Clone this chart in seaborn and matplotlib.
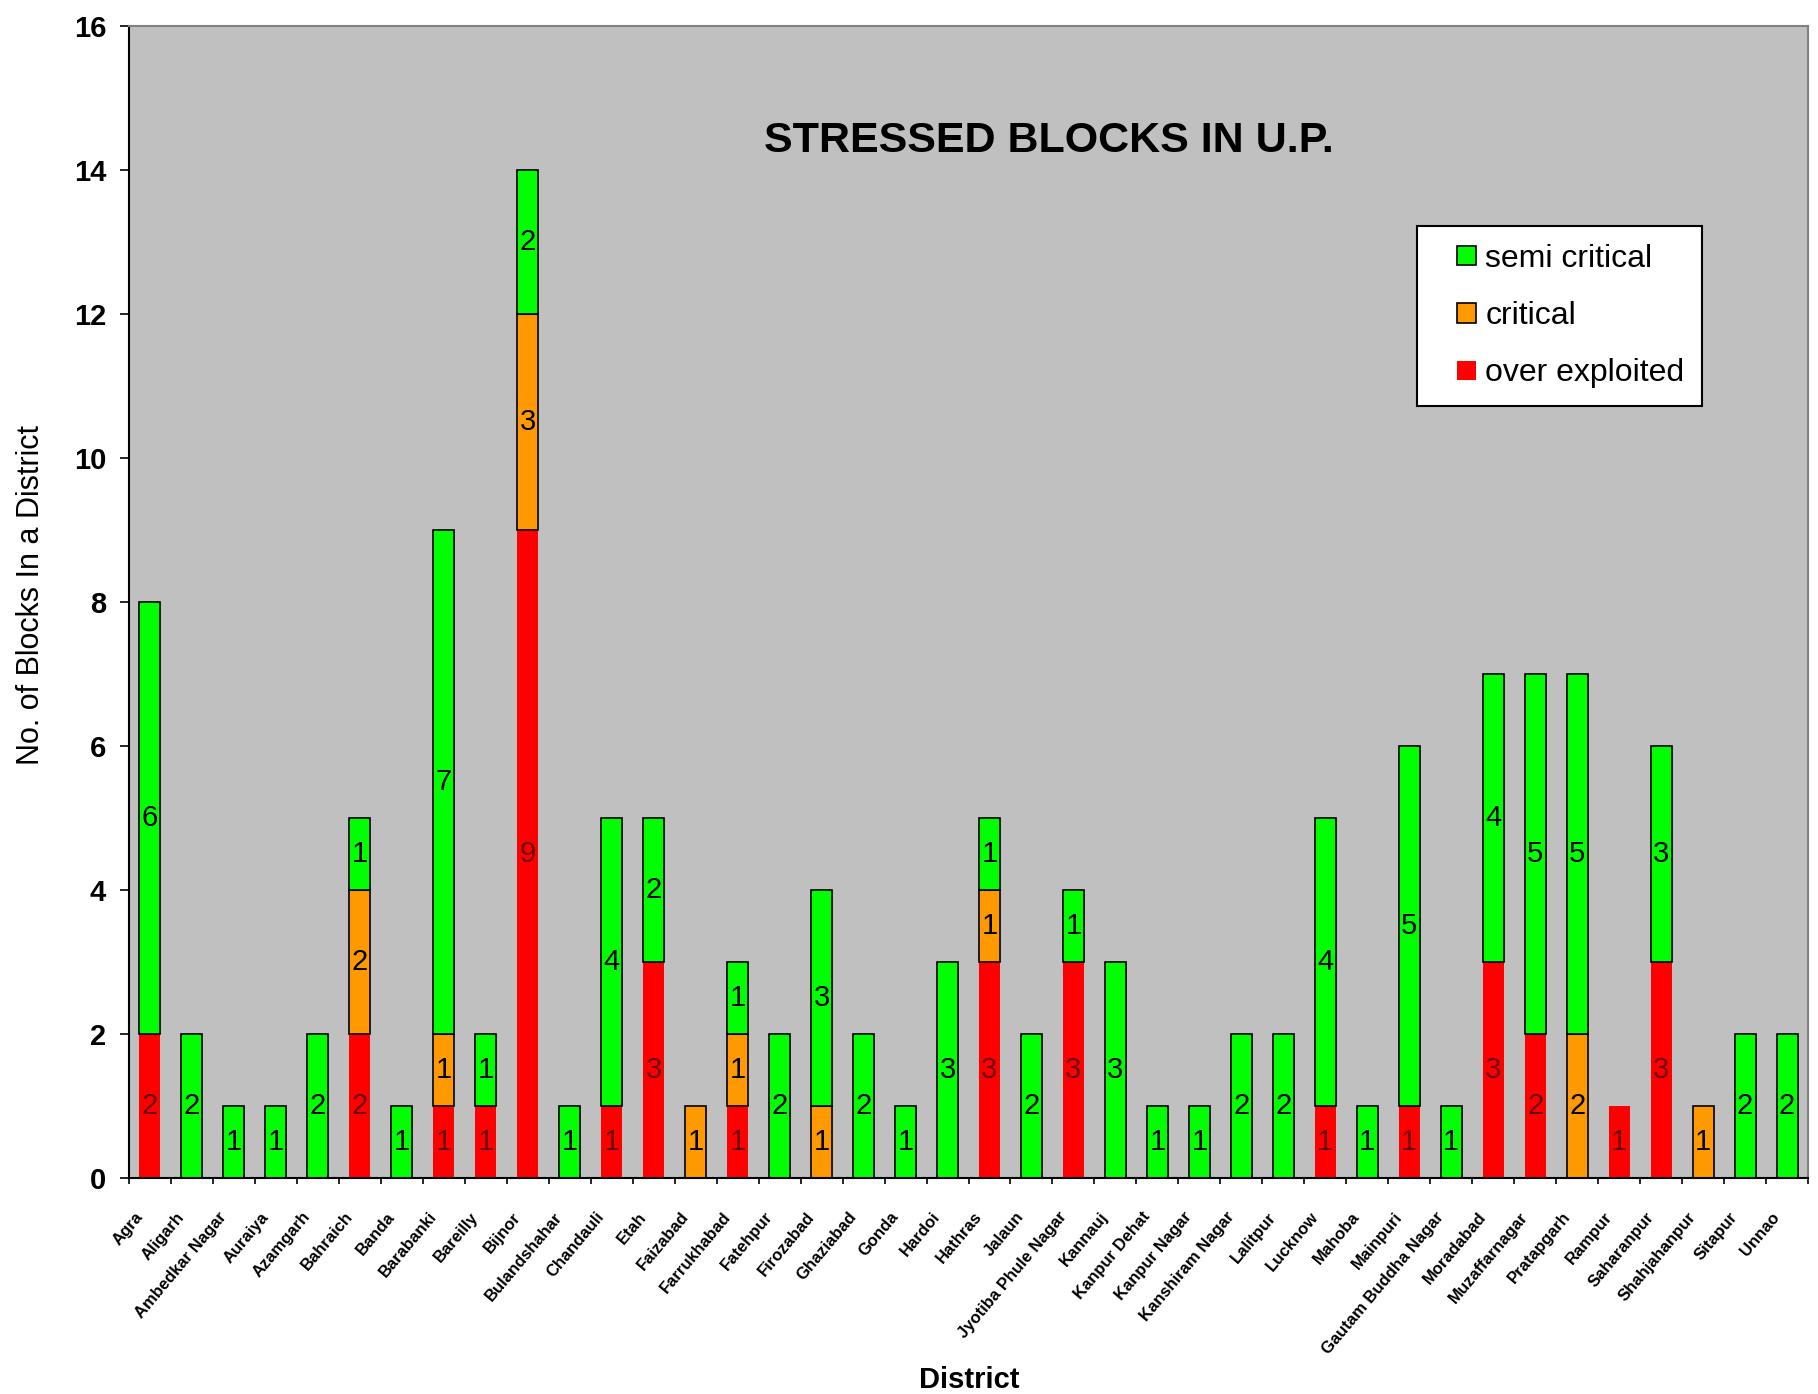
"""
Bloques estresados en U.P.: barras apiladas por distrito
(over exploited / critical / semi critical).
"""

import matplotlib

matplotlib.use("Agg")

import matplotlib.patches as mpatches
import matplotlib.pyplot as plt
import matplotlib.transforms as mtransforms
import numpy as np
import pandas as pd
import seaborn as sns
from matplotlib.legend_handler import HandlerPatch
from matplotlib.ticker import FixedLocator

# Datos
distritos = [
    "Agra", "Aligarh", "Ambedkar Nagar", "Auraiya", "Azamgarh",
    "Bahraich", "Banda", "Barabanki", "Bareilly", "Bijnor",
    "Bulandshahar", "Chandauli", "Etah", "Faizabad", "Farrukhabad",
    "Fatehpur", "Firozabad", "Ghaziabad", "Gonda", "Hardoi",
    "Hathras", "Jalaun", "Jyotiba Phule Nagar", "Kannauj", "Kanpur Dehat",
    "Kanpur Nagar", "Kanshiram Nagar", "Lalitpur", "Lucknow", "Mahoba",
    "Mainpuri", "Gautam Buddha Nagar", "Moradabad", "Muzaffarnagar", "Pratapgarh",
    "Rampur", "Saharanpur", "Shahjahanpur", "Sitapur", "Unnao",
]
over_exploited = [2, 0, 0, 0, 0, 2, 0, 1, 1, 9,
                  0, 1, 3, 0, 1, 0, 0, 0, 0, 0,
                  3, 0, 3, 0, 0, 0, 0, 0, 1, 0,
                  1, 0, 3, 2, 0, 1, 3, 0, 0, 0]
critical = [0, 0, 0, 0, 0, 2, 0, 1, 0, 3,
            0, 0, 0, 1, 1, 0, 1, 0, 0, 0,
            1, 0, 0, 0, 0, 0, 0, 0, 0, 0,
            0, 0, 0, 0, 2, 0, 0, 1, 0, 0]
semi_critical = [6, 2, 1, 1, 2, 1, 1, 7, 1, 2,
                 1, 4, 2, 0, 1, 2, 3, 2, 1, 3,
                 1, 2, 1, 3, 1, 1, 2, 2, 4, 1,
                 5, 1, 4, 5, 5, 0, 3, 0, 2, 2]
y_ticks = [0, 2, 4, 6, 8, 10, 12, 14, 16]

VERDE = "#00FF00"
NARANJA = "#FF9900"
ROJO = "#FF0000"
FONDO = "#C0C0C0"

W, H = 1818, 1394


def cuadro(legend, orig_handle, xdescent, ydescent, width, height, fontsize):
    """Cuadrito de leyenda pegado a la derecha del hueco del handle."""
    lado = 0.6 * fontsize
    return mpatches.Rectangle(
        (-xdescent + width - lado, -ydescent + (height - lado) / 2), lado, lado
    )


def ejecutar():
    sns.set_theme(style="ticks")
    plt.rcParams["font.family"] = ["Liberation Sans", "DejaVu Sans"]
    plt.rcParams["text.color"] = "black"
    plt.rcParams["xtick.color"] = "black"
    plt.rcParams["ytick.color"] = "black"
    plt.rcParams["xtick.labelcolor"] = "black"
    plt.rcParams["ytick.labelcolor"] = "black"

    fig = plt.figure(figsize=(W / 100, H / 100), dpi=100)
    ax = fig.add_axes([129 / W, 1 - 1178 / H, (1808 - 129) / W, (1178 - 26) / H])
    ax.set_facecolor(FONDO)

    capas = [
        ("over exploited", over_exploited, ROJO, "#6A0000"),
        ("critical", critical, NARANJA, "black"),
        ("semi critical", semi_critical, VERDE, "black"),
    ]
    base = np.zeros(len(distritos))
    for nombre, valores, color, color_txt in capas:
        valores = np.array(valores, dtype=float)
        df = pd.DataFrame({"distrito": distritos, "bloques": valores})
        if color == ROJO:
            bordes = ["none"] * len(valores)
        else:
            bordes = ["black" if v > 0 else "none" for v in valores]
        sns.barplot(
            data=df, x="distrito", y="bloques", order=distritos,
            color=color, saturation=1, width=0.5, errorbar=None,
            bottom=base.copy(), edgecolor=bordes, linewidth=1.2, ax=ax,
        )
        for i, v in enumerate(valores):
            if v > 0:
                ax.text(i, base[i] + v / 2, f"{int(v)}", ha="center",
                        va="center", fontsize=21, color=color_txt)
        base += valores

    ax.set_xlim(-0.5, len(distritos) - 0.5)
    ax.set_ylim(0, 16)
    ax.set_yticks(y_ticks)
    ax.set_yticklabels([str(t) for t in y_ticks], fontsize=21,
                       fontweight="bold")
    ax.set_xlabel("")
    ax.set_ylabel("")

    ax.xaxis.set_minor_locator(
        FixedLocator(np.arange(len(distritos) + 1) - 0.5))
    ax.tick_params(axis="x", which="major", length=0, pad=26)
    ax.tick_params(axis="x", which="minor", length=4.5, width=1.2,
                   color="black", direction="out")
    ax.tick_params(axis="y", length=6.5, width=1.2, color="black",
                   direction="out", pad=10)
    desplaza = mtransforms.ScaledTranslation(-10 / 100, 0, fig.dpi_scale_trans)
    for etiqueta in ax.get_xticklabels():
        etiqueta.set_rotation(50)
        etiqueta.set_ha("right")
        etiqueta.set_va("center")
        etiqueta.set_rotation_mode("anchor")
        etiqueta.set_fontsize(12)
        etiqueta.set_fontweight("bold")
        etiqueta.set_transform(etiqueta.get_transform() + desplaza)

    for lado in ["left", "bottom"]:
        ax.spines[lado].set_color("black")
        ax.spines[lado].set_linewidth(1.5)
    for lado in ["top", "right"]:
        ax.spines[lado].set_color("#808080")
        ax.spines[lado].set_linewidth(1.5)

    ax.text(0.548, 0.900, "STRESSED BLOCKS IN U.P.", transform=ax.transAxes,
            ha="center", va="center", fontsize=31, fontweight="bold")

    handles = [
        mpatches.Patch(facecolor=VERDE, edgecolor="black", linewidth=1.2),
        mpatches.Patch(facecolor=NARANJA, edgecolor="black", linewidth=1.2),
        mpatches.Patch(facecolor=ROJO, edgecolor="none"),
    ]
    leg = ax.legend(
        handles, ["semi critical", "critical", "over exploited"],
        loc="upper left", bbox_to_anchor=(0.767, 0.826), borderaxespad=0,
        fontsize=23, handlelength=1.3, handleheight=0.7, handletextpad=0.3,
        labelspacing=0.85, borderpad=0.55, fancybox=False, framealpha=1,
        edgecolor="black", handler_map={mpatches.Patch: HandlerPatch(patch_func=cuadro)},
    )
    leg.get_frame().set_linewidth(1.5)

    fig.text(31 / W, 1 - 595 / H, "No. of Blocks In a District", rotation=90,
             ha="center", va="center", fontsize=22)
    fig.text(969 / W, 1 - 1380 / H, "District", ha="center", va="center",
             fontsize=21, fontweight="bold")

    fig.savefig("out.png", dpi=100)
    plt.close(fig)


if __name__ == "__main__":
    ejecutar()
